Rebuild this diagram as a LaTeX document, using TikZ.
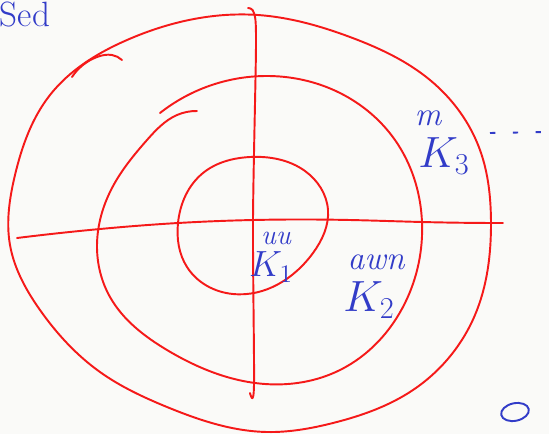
\documentclass[tikz,border=0pt]{standalone}
\usepackage{amsmath,amssymb}
\usepackage{tikz}
\usetikzlibrary{positioning,shapes.geometric,hobby}
\definecolor{penred}{RGB}{245,25,25}
\definecolor{penblue}{RGB}{50,60,200}
\definecolor{paper}{RGB}{250,250,248}

\begin{document}
\begin{tikzpicture}[
  x=0.02cm, y=-0.02cm,
  curve/.style={draw=penred, line width=1.1pt, line cap=round, line join=round},
  note/.style={text=penblue, inner sep=0pt, font=\fontsize{26}{26}\selectfont},
  scrib/.style={text=penblue, inner sep=0pt, font=\itshape\fontsize{19}{19}\selectfont}
]
% Paper
\fill[paper] (0,0) rectangle (549,434);
\useasboundingbox (0,0) rectangle (549,434);

% Axes
\draw[curve] plot[hobby] coordinates {(17,238) (100,229) (178,223) (253,220) (350,220) (422,222) (503,223)};
\draw[curve] plot[smooth] coordinates {(248,8) (254,13) (256,45) (253,220) (254,385) (250,393)};

% Outer level curve
\draw[curve] plot[closed hobby] coordinates {(50,95) (127,40) (258,15) (350,37) (430,80)
  (480,150) (491,223) (475,315) (413,390) (333,423) (267,432) (167,407) (100,372)
  (40,310) (10,245) (15,175)};
\draw[curve] plot[hobby] coordinates {(72,77) (97,57) (112,55) (122,60)};

% Middle level curve
\draw[curve] plot[hobby] coordinates {(160,113) (265,76) (340,93) (395,140)
  (422,222) (405,303) (340,370) (265,384) (167,350) (110,297)
  (97,245) (112,188) (147,140) (177,115) (197,111)};

% Inner level curve
\draw[curve] plot[closed hobby] coordinates {(250,157) (305,171) (328,210) (313,253)
  (233,294) (187,267) (178,223) (203,173)};

% Labels
\node[note, font=\fontsize{20}{20}\selectfont] (sed) at (25,14) {Sed};
\node[scrib] (s3) at (428,118) {m};
\node[note] (k3) at (444,156) {$K_3$};
\node[scrib, font=\itshape\fontsize{16}{16}\selectfont] (s1) at (276,238) {uu};
\node[note, font=\fontsize{20}{20}\selectfont] (k1) at (271,267) {$K_1$};
\node[scrib] (s2) at (376,262) {awn};
\node[note] (k2) at (369,300) {$K_2$};
\draw[penblue, line width=1.1pt, dash pattern=on 3pt off 10pt] (490,133) -- (546,132);
\node[draw=penblue, line width=1.1pt, ellipse, minimum width=16pt, minimum height=10pt, inner sep=0pt, rotate=12] (o) at (515,412) {};
\end{tikzpicture}
\end{document}
